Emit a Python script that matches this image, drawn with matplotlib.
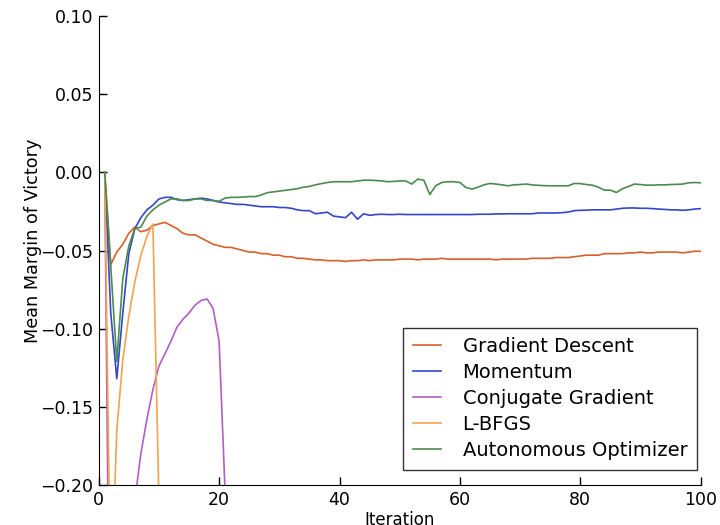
import matplotlib
matplotlib.use("Agg")
import matplotlib.pyplot as plt
import numpy as np

iters_full = list(range(1, 101))

gradient_descent = [
    0.0, -0.059, -0.051, -0.046, -0.039, -0.035, -0.038, -0.037, -0.034, -0.033,
    -0.032, -0.034, -0.036, -0.039, -0.040, -0.040, -0.042, -0.044, -0.046, -0.047,
    -0.048, -0.048, -0.049, -0.050, -0.051, -0.051, -0.052, -0.052, -0.053, -0.053,
    -0.054, -0.054, -0.055, -0.055, -0.0555, -0.056, -0.056, -0.0565, -0.0565, -0.0565,
    -0.057, -0.0565, -0.0565, -0.056, -0.0565, -0.056, -0.056, -0.056, -0.056, -0.0555,
    -0.0555, -0.0555, -0.056, -0.0555, -0.0555, -0.0555, -0.055, -0.0555, -0.0555, -0.0555,
    -0.0555, -0.0555, -0.0555, -0.0555, -0.0555, -0.056, -0.0555, -0.0555, -0.0555, -0.0555,
    -0.0555, -0.055, -0.055, -0.055, -0.055, -0.0545, -0.0545, -0.0545, -0.054, -0.0535,
    -0.053, -0.053, -0.053, -0.052, -0.052, -0.052, -0.052, -0.0515, -0.0515, -0.051,
    -0.0515, -0.0515, -0.051, -0.051, -0.051, -0.051, -0.0515, -0.051, -0.0505, -0.0505,
]

momentum = [
    0.0, -0.090, -0.132, -0.090, -0.052, -0.036, -0.029, -0.024, -0.021, -0.017,
    -0.016, -0.016, -0.0175, -0.018, -0.0175, -0.017, -0.0165, -0.017, -0.018, -0.019,
    -0.0195, -0.020, -0.0205, -0.0205, -0.021, -0.0215, -0.022, -0.022, -0.022, -0.0225,
    -0.0225, -0.023, -0.024, -0.0245, -0.0245, -0.0265, -0.026, -0.0255, -0.028, -0.0285,
    -0.029, -0.0255, -0.030, -0.0265, -0.0275, -0.027, -0.0268, -0.027, -0.027, -0.0268,
    -0.027, -0.027, -0.027, -0.027, -0.027, -0.027, -0.027, -0.027, -0.027, -0.027,
    -0.027, -0.027, -0.0268, -0.0268, -0.0268, -0.0266, -0.0266, -0.0265, -0.0265, -0.0265,
    -0.0265, -0.0265, -0.026, -0.026, -0.026, -0.026, -0.0258, -0.0254, -0.0245, -0.0243,
    -0.0242, -0.024, -0.024, -0.024, -0.024, -0.0235, -0.023, -0.0228, -0.0228, -0.023,
    -0.023, -0.0232, -0.0235, -0.0237, -0.024, -0.024, -0.0243, -0.024, -0.0235, -0.0232,
]

autonomous = [
    0.0, -0.060, -0.121, -0.068, -0.047, -0.036, -0.035, -0.028, -0.024, -0.021,
    -0.019, -0.017, -0.017, -0.018, -0.018, -0.017, -0.017, -0.018, -0.018, -0.0185,
    -0.0165, -0.016, -0.016, -0.0158, -0.0155, -0.0155, -0.0145, -0.013, -0.0125, -0.012,
    -0.0115, -0.011, -0.0105, -0.0095, -0.009, -0.008, -0.0072, -0.0065, -0.006, -0.006,
    -0.006, -0.006, -0.0055, -0.005, -0.005, -0.0052, -0.0055, -0.006, -0.0058, -0.0055,
    -0.0055, -0.0075, -0.0043, -0.005, -0.0142, -0.0085, -0.0065, -0.006, -0.006, -0.0065,
    -0.0097, -0.0107, -0.0095, -0.008, -0.0071, -0.0075, -0.008, -0.0086, -0.008, -0.0078,
    -0.0075, -0.008, -0.0083, -0.0085, -0.0086, -0.0086, -0.0086, -0.0086, -0.0071, -0.0072,
    -0.0078, -0.0082, -0.0095, -0.0114, -0.0114, -0.0129, -0.0105, -0.009, -0.0075, -0.0078,
    -0.0082, -0.0082, -0.008, -0.008, -0.0078, -0.0077, -0.0075, -0.0067, -0.0065, -0.0067,
]

iters_cg = list(range(1, 23))
conjugate_gradient = [
    0.0, -0.40, -0.60, -0.60, -0.45, -0.21, -0.18, -0.158, -0.139, -0.124,
    -0.116, -0.108, -0.099, -0.094, -0.090, -0.085, -0.082, -0.081, -0.087, -0.108,
    -0.205, -0.50,
]

iters_lbfgs = list(range(1, 12))
lbfgs = [0.0, -0.28, -0.165, -0.12, -0.092, -0.07, -0.053, -0.041, -0.033, -0.21, -0.60]

labels = ["Gradient Descent", "Momentum", "Conjugate Gradient", "L-BFGS", "Autonomous Optimizer"]
colors = ["#d8602c", "#3546c8", "#b060c4", "#f5a24e", "#4a8c4e"]

yticks = [0.10, 0.05, 0.00, -0.05, -0.10, -0.15, -0.20]
xticks = [0, 20, 40, 60, 80, 100]

plt.rcParams['font.family'] = ['DejaVu Sans']
fig = plt.figure(figsize=(7.2, 5.25), dpi=100)
ax = fig.add_axes([0.1371, 0.0762, 0.8361, 0.8933])

series = [
    (iters_full, gradient_descent),
    (iters_full, momentum),
    (iters_cg, conjugate_gradient),
    (iters_lbfgs, lbfgs),
    (iters_full, autonomous),
]
for (xs, ys), lab, col in zip(series, labels, colors):
    ax.plot(xs, ys, color=col, lw=1.2, label=lab)

ax.set_xlim(0, 100)
ax.set_ylim(-0.20, 0.10)
ax.set_xticks(xticks)
ax.set_yticks(yticks)
ax.set_yticklabels([f"{v:.2f}".replace("-", "\u2212") for v in yticks])
ax.tick_params(direction='in', length=6, width=1, labelsize=12.5, top=False, right=False, pad=4)
ax.spines['top'].set_visible(False)
ax.spines['right'].set_visible(False)
ax.set_xlabel("Iteration", fontsize=12, labelpad=2)
ax.set_ylabel("Mean Margin of Victory", fontsize=12.7)
ax.yaxis.set_label_coords(-0.094, 0.52)

leg = ax.legend(loc='lower right', bbox_to_anchor=(0.994, 0.032), borderaxespad=0,
                fontsize=14, handlelength=1.45, handletextpad=1.1, labelspacing=0.36,
                borderpad=0.5, fancybox=False, frameon=True)
leg.get_frame().set_edgecolor('black')
leg.get_frame().set_linewidth(1.0)

fig.savefig("out.png", dpi=100)
